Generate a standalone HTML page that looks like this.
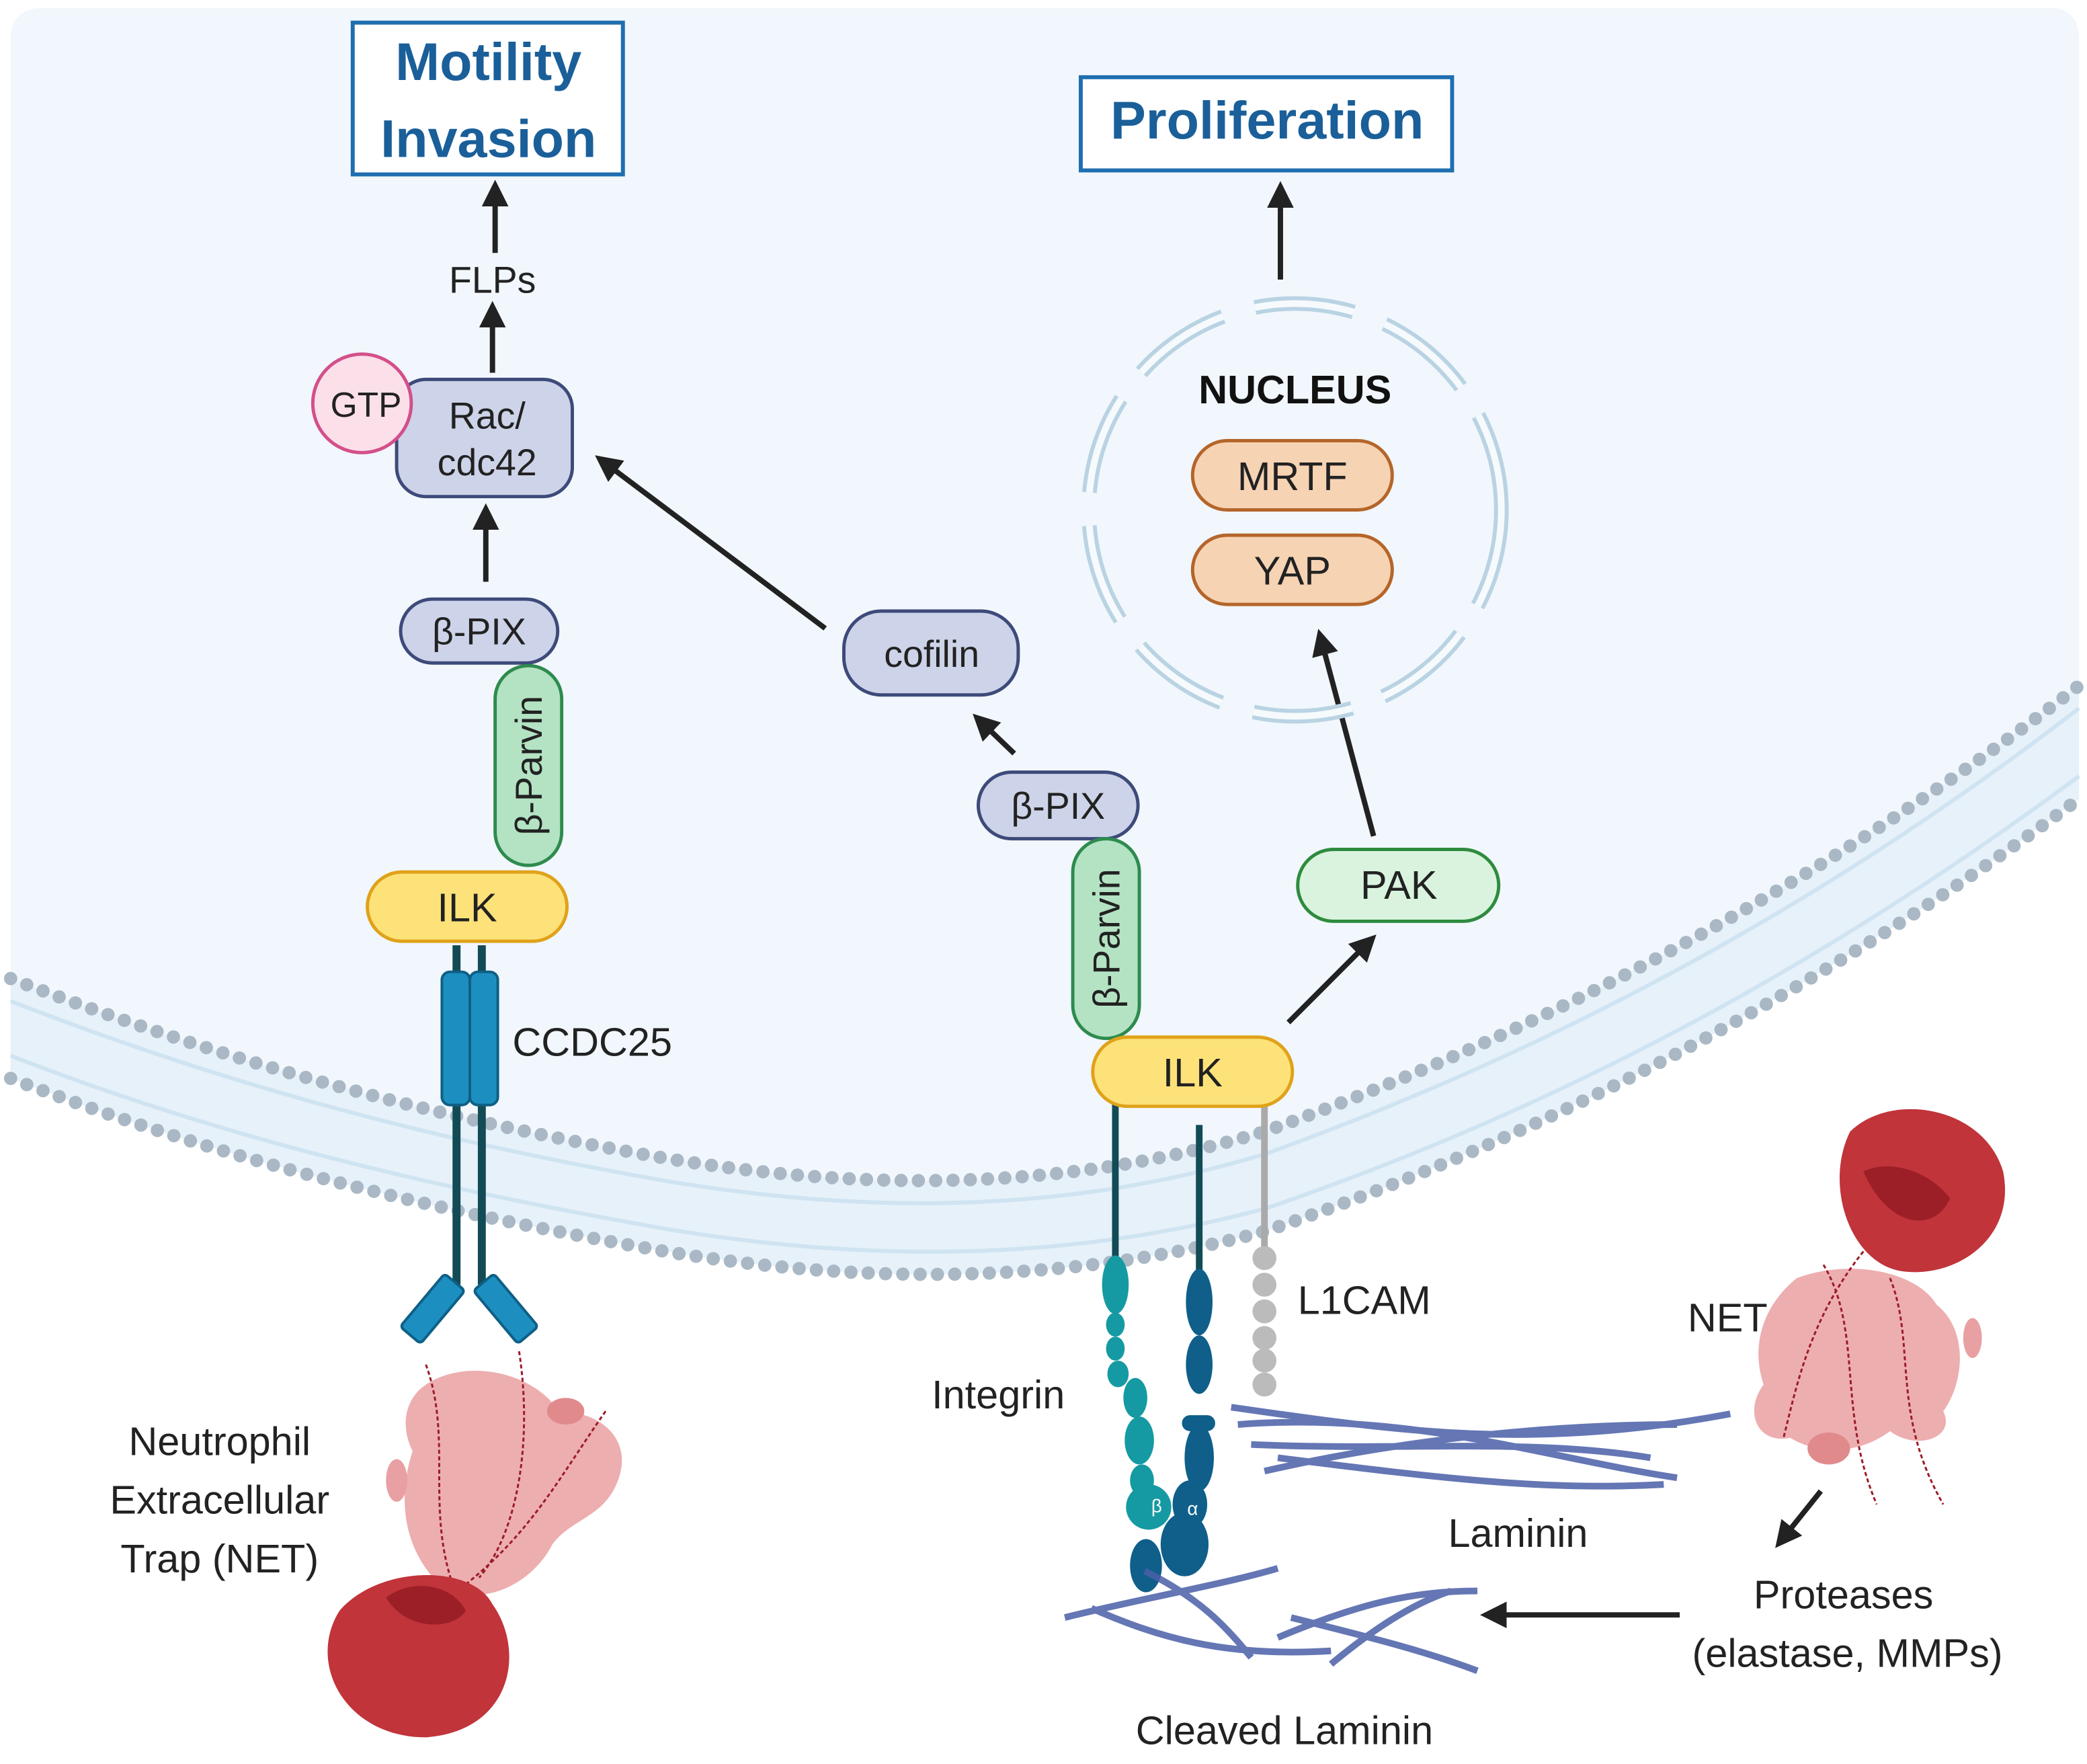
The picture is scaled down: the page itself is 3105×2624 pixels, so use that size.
<!DOCTYPE html>
<html><head><meta charset="utf-8"><style>html,body{margin:0;padding:0;background:#fff}svg{display:block}</style></head>
<body>
<svg width="3105" height="2624" viewBox="0 0 1568 1325" preserveAspectRatio="none" xmlns="http://www.w3.org/2000/svg" font-family="Liberation Sans, sans-serif">
<defs>
<marker id="ah" markerWidth="5" markerHeight="5" refX="2.5" refY="2.5" orient="auto" markerUnits="strokeWidth"><path d="M0,0 L5,2.5 L0,5 Z" fill="#222"/></marker>
</defs>
<rect width="1568" height="1325" fill="#fff"/>
<path d="M8,30 Q8,6 32,6 L1540,6 Q1562,6 1562,30 L1562,515 C1400,640 1200,760 950,850 C800,895 650,895 500,870 C300,835 150,790 8,735 Z" fill="#f1f7fc"/>
<path d="M8,735 C150,790 300,835 500,870 C650,895 800,895 950,850 C1200,760 1400,640 1562,515 L1562,600 C1400,720 1200,840 950,925 C800,965 650,965 500,940 C300,905 150,865 8,810 Z" fill="#e6f1fa"/>
<path d="M8,752 C150,807 300,852 500,887 C650,912 800,912 950,867 C1200,777 1400,657 1562,532" fill="none" stroke="#cfe3f1" stroke-width="3"/>
<path d="M8,793 C150,848 300,888 500,923 C650,948 800,948 950,908 C1200,823 1400,703 1562,583" fill="none" stroke="#cfe3f1" stroke-width="3"/>
<path d="M8,735 C150,790 300,835 500,870 C650,895 800,895 950,850 C1200,760 1400,640 1562,515" fill="none" stroke="#a9b8c4" stroke-width="10" stroke-linecap="round" stroke-dasharray="0 13"/>
<path d="M8,810 C150,865 300,905 500,940 C650,965 800,965 950,925 C1200,840 1400,720 1562,600" fill="none" stroke="#a9b8c4" stroke-width="10" stroke-linecap="round" stroke-dasharray="0 13"/>

<rect x="265" y="17" width="203" height="114" fill="#fff" stroke="#1f6fb0" stroke-width="3"/>
<text x="367" y="60" font-size="40" font-weight="bold" fill="#1a5f99" text-anchor="middle">Motility</text>
<text x="367" y="118" font-size="40" font-weight="bold" fill="#1a5f99" text-anchor="middle">Invasion</text>
<rect x="812" y="58" width="279" height="70" fill="#fff" stroke="#1f6fb0" stroke-width="3"/>
<text x="952" y="104" font-size="40" font-weight="bold" fill="#1a5f99" text-anchor="middle">Proliferation</text>

<g stroke="#222" stroke-width="4" fill="none" marker-end="url(#ah)">
<line x1="372" y1="190" x2="372" y2="145"/>
<line x1="370" y1="280" x2="370" y2="236"/>
<line x1="962" y1="210" x2="962" y2="146"/>
<line x1="365" y1="437" x2="365" y2="388"/>
<line x1="620" y1="472" x2="455" y2="348"/>
<line x1="762" y1="566" x2="738" y2="543"/>
<line x1="968" y1="768" x2="1027" y2="709"/>
<line x1="1032" y1="628" x2="993" y2="482"/>
<line x1="1368" y1="1120" x2="1340" y2="1155"/>
<line x1="1262" y1="1213" x2="1122" y2="1213"/>
</g>
<text x="370" y="220" font-size="28" fill="#222" text-anchor="middle">FLPs</text>

<rect x="298" y="285" width="132" height="88" rx="22" fill="#cdd3e8" stroke="#3d4a7a" stroke-width="2.5"/>
<text x="366" y="322" font-size="28" text-anchor="middle" fill="#222">Rac/</text>
<text x="366" y="357" font-size="28" text-anchor="middle" fill="#222">cdc42</text>
<circle cx="272" cy="303" r="37" fill="#fbe0ea" stroke="#d44f8a" stroke-width="2.5"/>
<text x="275" y="313" font-size="26" text-anchor="middle" fill="#222">GTP</text>

<rect x="301" y="450" width="118" height="48" rx="24" fill="#cdd3e8" stroke="#3d4a7a" stroke-width="2.5"/>
<text x="360" y="484" font-size="28" text-anchor="middle" fill="#222">β-PIX</text>
<rect x="372" y="500" width="50" height="150" rx="25" fill="#b3e3c3" stroke="#2e8b4e" stroke-width="2.5"/>
<text transform="translate(407,575) rotate(-90)" font-size="28" text-anchor="middle" fill="#222">β-Parvin</text>
<rect x="276" y="655" width="150" height="52" rx="26" fill="#fde27a" stroke="#e0a21a" stroke-width="2.5"/>
<text x="351" y="692" font-size="30" text-anchor="middle" fill="#222">ILK</text>

<g stroke="#124b55" stroke-width="6">
<line x1="343" y1="710" x2="343" y2="965"/><line x1="362" y1="710" x2="362" y2="965"/>
</g>
<rect x="332" y="730" width="21" height="100" rx="6" fill="#1c8fc0" stroke="#0f5f85" stroke-width="2"/>
<rect x="353" y="730" width="21" height="100" rx="6" fill="#1c8fc0" stroke="#0f5f85" stroke-width="2"/>
<rect x="-10" y="-26" width="20" height="52" rx="3" fill="#1c8fc0" stroke="#0f5f85" stroke-width="2" transform="translate(325,983) rotate(40)"/>
<rect x="-10" y="-26" width="20" height="52" rx="3" fill="#1c8fc0" stroke="#0f5f85" stroke-width="2" transform="translate(380,983) rotate(-40)"/>
<text x="385" y="793" font-size="30" fill="#222">CCDC25</text>

<rect x="634" y="459" width="131" height="63" rx="28" fill="#cdd3e8" stroke="#3d4a7a" stroke-width="2.5"/>
<text x="700" y="501" font-size="28" text-anchor="middle" fill="#222">cofilin</text>
<rect x="735" y="580" width="120" height="50" rx="25" fill="#cdd3e8" stroke="#3d4a7a" stroke-width="2.5"/>
<text x="795" y="615" font-size="28" text-anchor="middle" fill="#222">β-PIX</text>
<rect x="806" y="630" width="50" height="150" rx="25" fill="#b3e3c3" stroke="#2e8b4e" stroke-width="2.5"/>
<text transform="translate(841,705) rotate(-90)" font-size="28" text-anchor="middle" fill="#222">β-Parvin</text>
<rect x="975" y="638" width="151" height="54" rx="27" fill="#d9f3de" stroke="#2e8b3e" stroke-width="2.5"/>
<text x="1051" y="675" font-size="30" text-anchor="middle" fill="#222">PAK</text>

<line x1="838" y1="828" x2="838" y2="945" stroke="#124b55" stroke-width="5"/>
<line x1="901" y1="845" x2="901" y2="960" stroke="#124b55" stroke-width="5"/>
<line x1="950" y1="828" x2="950" y2="940" stroke="#aaa" stroke-width="5"/>
<g fill="#159aa3">
<ellipse cx="838" cy="965" rx="10" ry="22"/><ellipse cx="838" cy="995" rx="7" ry="9"/><ellipse cx="838" cy="1013" rx="7" ry="9"/><ellipse cx="840" cy="1032" rx="8" ry="10"/><ellipse cx="853" cy="1050" rx="9" ry="15"/><ellipse cx="856" cy="1082" rx="11" ry="18"/><ellipse cx="858" cy="1112" rx="9" ry="12"/><circle cx="863" cy="1132" r="17"/>
</g>
<ellipse cx="861" cy="1176" rx="12" ry="20" fill="#0f5f8a"/>
<g fill="#0f5f8a">
<ellipse cx="901" cy="978" rx="10" ry="25"/><ellipse cx="901" cy="1025" rx="10" ry="22"/><rect x="888" y="1063" width="25" height="12" rx="6"/><ellipse cx="901" cy="1095" rx="11" ry="25"/><ellipse cx="894" cy="1130" rx="13" ry="18"/><ellipse cx="890" cy="1160" rx="18" ry="24"/>
</g>
<text x="865" y="1136" font-size="14" fill="#fff">β</text>
<text x="892" y="1138" font-size="14" fill="#fff">α</text>
<g fill="#bbb"><circle cx="950" cy="945" r="9"/><circle cx="950" cy="965" r="9"/><circle cx="950" cy="985" r="9"/><circle cx="950" cy="1005" r="9"/><circle cx="950" cy="1022" r="9"/><circle cx="950" cy="1040" r="9"/></g>
<rect x="821" y="779" width="150" height="52" rx="26" fill="#fde27a" stroke="#e0a21a" stroke-width="2.5"/>
<text x="896" y="816" font-size="30" text-anchor="middle" fill="#222">ILK</text>
<text x="975" y="987" font-size="30" fill="#222">L1CAM</text>
<text x="700" y="1058" font-size="30" fill="#222">Integrin</text>

<g fill="none" stroke="#4a5fa8" stroke-width="5" opacity="0.85">
<path d="M925,1057 C1050,1075 1150,1090 1300,1062"/>
<path d="M930,1070 C1060,1060 1160,1095 1260,1110"/>
<path d="M950,1105 C1060,1080 1170,1070 1260,1070"/>
<path d="M960,1095 C1080,1110 1160,1120 1250,1115"/>
<path d="M940,1085 C1050,1090 1150,1080 1240,1095"/>
<path d="M800,1215 C860,1200 920,1190 960,1178"/>
<path d="M820,1208 C870,1230 920,1245 1000,1240"/>
<path d="M860,1180 C900,1200 920,1220 940,1245"/>
<path d="M960,1230 C1020,1205 1060,1195 1110,1195"/>
<path d="M970,1215 C1030,1230 1070,1240 1110,1255"/>
<path d="M1000,1250 C1030,1225 1060,1205 1090,1195"/>
</g>
<text x="1088" y="1162" font-size="30" fill="#222">Laminin</text>
<text x="965" y="1310" font-size="30" fill="#222" text-anchor="middle">Cleaved Laminin</text>
<text x="1268" y="1000" font-size="30" fill="#222">NET</text>
<text x="1385" y="1208" font-size="30" fill="#222" text-anchor="middle">Proteases</text>
<text x="1388" y="1252" font-size="30" fill="#222" text-anchor="middle">(elastase, MMPs)</text>

<circle cx="973" cy="383" r="155" fill="none" stroke="#b9d3e3" stroke-width="11" stroke-dasharray="75 25"/>
<circle cx="973" cy="383" r="155" fill="none" stroke="#f6fafd" stroke-width="5" stroke-dasharray="75 25"/>
<text x="973" y="303" font-size="30" font-weight="bold" text-anchor="middle" fill="#111">NUCLEUS</text>
<rect x="896" y="331" width="150" height="52" rx="26" fill="#f6d3b3" stroke="#b5652a" stroke-width="2.5"/>
<text x="971" y="368" font-size="30" text-anchor="middle" fill="#222">MRTF</text>
<rect x="896" y="402" width="150" height="52" rx="26" fill="#f6d3b3" stroke="#b5652a" stroke-width="2.5"/>
<text x="971" y="439" font-size="30" text-anchor="middle" fill="#222">YAP</text>

<path d="M320,1040 C350,1020 400,1030 420,1060 C450,1060 475,1080 465,1110 C455,1140 430,1140 415,1160 C400,1190 360,1210 330,1190 C300,1160 300,1120 310,1090 C300,1070 305,1050 320,1040 Z" fill="#e89a9c" opacity="0.8"/>
<ellipse cx="425" cy="1060" rx="14" ry="10" fill="#e08a8c"/>
<ellipse cx="298" cy="1112" rx="8" ry="16" fill="#e8a0a2"/>
<path d="M320,1025 C340,1080 320,1130 340,1190 M390,1015 C400,1080 390,1150 360,1185 M455,1060 C420,1110 400,1150 350,1190" fill="none" stroke="#9b1b25" stroke-width="1.5" stroke-dasharray="3 2"/>
<path d="M255,1210 C285,1175 355,1175 370,1205 C395,1240 385,1300 320,1305 C260,1305 230,1250 255,1210 Z" fill="#c0343a"/>
<path d="M290,1200 C310,1185 340,1190 350,1210 C340,1225 305,1225 290,1200 Z" fill="#9c1f27"/>
<text x="165" y="1093" font-size="30" fill="#222" text-anchor="middle">Neutrophil</text>
<text x="165" y="1137" font-size="30" fill="#222" text-anchor="middle">Extracellular</text>
<text x="165" y="1181" font-size="30" fill="#222" text-anchor="middle">Trap (NET)</text>

<path d="M1350,960 C1390,945 1440,955 1455,980 C1480,1000 1475,1040 1460,1060 C1470,1080 1440,1090 1420,1075 C1400,1090 1370,1095 1345,1080 C1320,1085 1310,1060 1325,1040 C1315,1010 1325,980 1350,960 Z" fill="#e89a9c" opacity="0.8"/>
<ellipse cx="1374" cy="1088" rx="16" ry="12" fill="#e08a8c"/>
<ellipse cx="1482" cy="1005" rx="7" ry="15" fill="#e8a0a2"/>
<path d="M1370,950 C1400,1000 1380,1060 1410,1130 M1420,960 C1440,1010 1420,1060 1460,1130 M1400,940 C1360,990 1350,1040 1340,1080" fill="none" stroke="#9b1b25" stroke-width="1.5" stroke-dasharray="3 2"/>
<path d="M1390,850 C1420,820 1490,830 1505,880 C1515,930 1470,960 1430,955 C1390,950 1370,890 1390,850 Z" fill="#c0343a"/>
<path d="M1400,880 C1420,870 1450,880 1465,900 C1455,925 1420,925 1400,880 Z" fill="#9c1f27"/>
</svg>
</body></html>
